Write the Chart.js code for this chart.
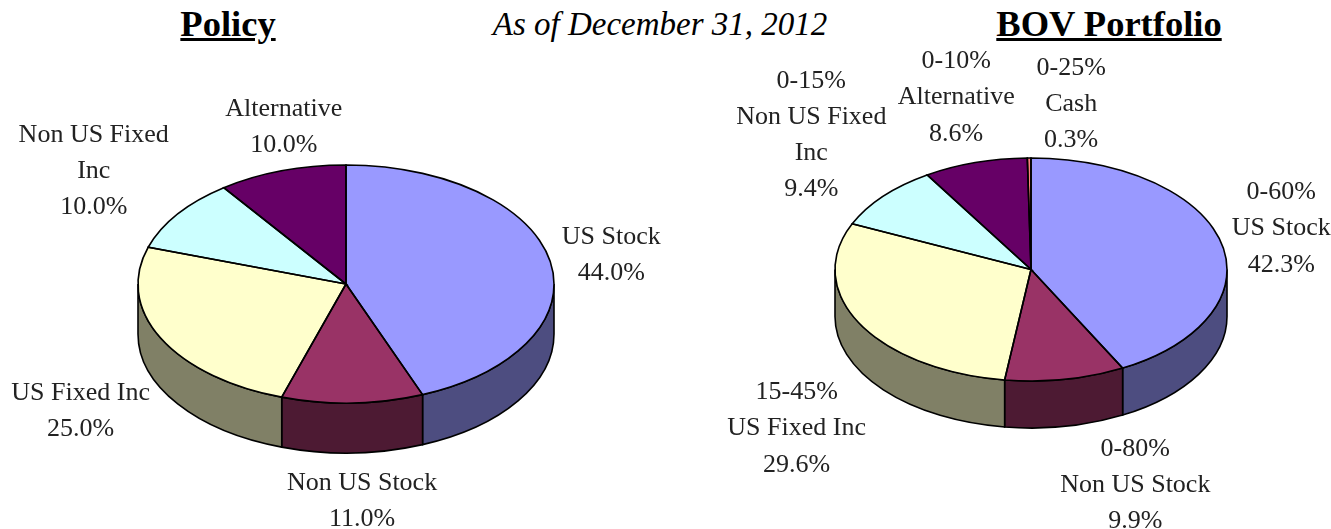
<!DOCTYPE html>
<html>
<head>
<meta charset="utf-8">
<style>
html,body{margin:0;padding:0;background:#fff;width:1331px;height:529px;overflow:hidden}
canvas{position:absolute;top:0}
.t{position:absolute;white-space:nowrap;font-family:"Liberation Serif",serif;color:#000;transform:translateX(-50%);line-height:1}
</style>
</head>
<body>
<div class="t" style="left:228px;top:6px;font-size:36.5px;font-weight:bold;text-decoration:underline">Policy</div>
<div class="t" style="left:660px;top:8px;font-size:33px;font-style:italic">As of December 31, 2012</div>
<div class="t" style="left:1109px;top:6px;font-size:36.5px;font-weight:bold;text-decoration:underline">BOV Portfolio</div>
<div style="position:absolute;left:0;top:0;width:665px;height:529px"><canvas id="policy"></canvas></div>
<div style="position:absolute;left:665px;top:0;width:666px;height:529px"><canvas id="bov"></canvas></div>
<script src="https://cdn.jsdelivr.net/npm/chart.js@4"></script>
<script>
const policyCategories = ["US Stock", "Non US Stock", "US Fixed Inc", "Non US Fixed Inc", "Alternative"];
const policyValues = [44.0, 11.0, 25.0, 10.0, 10.0];
const policyLabelLines = [
  ["US Stock", "44.0%"],
  ["Non US Stock", "11.0%"],
  ["US Fixed Inc", "25.0%"],
  ["Non US Fixed", "Inc", "10.0%"],
  ["Alternative", "10.0%"]
];
const bovCategories = ["US Stock", "Non US Stock", "US Fixed Inc", "Non US Fixed Inc", "Alternative", "Cash"];
const bovValues = [42.3, 9.9, 29.6, 9.4, 8.6, 0.3];
const bovLabelLines = [
  ["0-60%", "US Stock", "42.3%"],
  ["0-80%", "Non US Stock", "9.9%"],
  ["15-45%", "US Fixed Inc", "29.6%"],
  ["0-15%", "Non US Fixed", "Inc", "9.4%"],
  ["0-10%", "Alternative", "8.6%"],
  ["0-25%", "Cash", "0.3%"]
];
const topColors = ["#9999FF", "#993366", "#FFFFCC", "#CCFFFF", "#660066", "#FF8080"];
const wallColors = ["#4D4D80", "#4D1A33", "#808066", "#668080", "#330033", "#804040"];

const pie3d = {
  id: "pie3d",
  beforeDatasetDraw(chart) {
    const o = chart.options.plugins.pie3d, ctx = chart.ctx;
    const arcs = chart.getDatasetMeta(0).data;
    // side wall: only the part of each slice on the front half of the ellipse
    arcs.forEach((arc, i) => {
      const p = arc.getProps(["x", "y", "startAngle", "endAngle", "outerRadius"], true);
      const a = Math.max(p.startAngle, 0), b = Math.min(p.endAngle, Math.PI);
      if (b <= a) return;
      ctx.save();
      ctx.beginPath();
      ctx.save();
      ctx.translate(p.x, p.y); ctx.scale(1, o.squash);
      ctx.arc(0, 0, p.outerRadius, a, b);
      ctx.restore();
      ctx.save();
      ctx.translate(p.x, p.y + o.depth); ctx.scale(1, o.squash);
      ctx.arc(0, 0, p.outerRadius, b, a, true);
      ctx.restore();
      ctx.closePath();
      ctx.fillStyle = wallColors[i];
      ctx.fill();
      ctx.strokeStyle = "#000"; ctx.lineWidth = o.lineWidth;
      ctx.stroke();
      ctx.restore();
    });
    ctx.save();
    const c = arcs[0].getProps(["y"], true);
    ctx.translate(0, c.y); ctx.scale(1, o.squash); ctx.translate(0, -c.y);
  },
  afterDatasetDraw(chart) {
    const o = chart.options.plugins.pie3d, ctx = chart.ctx;
    ctx.restore();
    const arcs = chart.getDatasetMeta(0).data;
    arcs.forEach((arc) => {
      const p = arc.getProps(["x", "y", "startAngle", "endAngle", "outerRadius"], true);
      ctx.save();
      ctx.beginPath();
      ctx.save();
      ctx.translate(p.x, p.y); ctx.scale(1, o.squash);
      ctx.moveTo(0, 0);
      ctx.arc(0, 0, p.outerRadius, p.startAngle, p.endAngle);
      ctx.closePath();
      ctx.restore();
      ctx.strokeStyle = "#000"; ctx.lineWidth = o.lineWidth;
      ctx.stroke();
      ctx.restore();
    });
    // labels, anchored on each slice's rim
    ctx.save();
    ctx.font = o.font; ctx.fillStyle = "#222";
    ctx.textAlign = "center"; ctx.textBaseline = "middle";
    arcs.forEach((arc, i) => {
      const p = arc.getProps(["x", "y", "startAngle", "endAngle", "outerRadius"], true);
      const m = (p.startAngle + p.endAngle) / 2;
      const lx = p.x + p.outerRadius * Math.cos(m) + o.offsets[i][0];
      const ly = p.y + p.outerRadius * o.squash * Math.sin(m) + o.offsets[i][1];
      const lines = o.lines[i];
      lines.forEach((t, j) => ctx.fillText(t, lx, ly + (j - (lines.length - 1) / 2) * o.lineHeight));
    });
    ctx.restore();
  }
};

function makePie(id, categories, values, lines, padding, squash, depth, offsets, lineHeight) {
  return new Chart(document.getElementById(id), {
    type: "pie",
    data: {
      labels: categories,
      datasets: [{ data: values, backgroundColor: topColors.slice(0, values.length), borderWidth: 0, clip: false }]
    },
    options: {
      responsive: true, maintainAspectRatio: false, animation: false,
      layout: { padding },
      plugins: {
        legend: { display: false }, tooltip: { enabled: false }, title: { display: false },
        pie3d: { squash, depth, offsets, lines, lineHeight, lineWidth: 1.6, font: '26px "Liberation Serif"' }
      }
    },
    plugins: [pie3d]
  });
}

makePie("policy", policyCategories, policyValues, policyLabelLines,
  { left: 138, right: 111, top: 76, bottom: 37 }, 0.572, 50,
  [[61, -6.5], [9.5, 98], [-80, 73], [-84, -43], [2, -44]], 36);
makePie("bov", bovCategories, bovValues, bovLabelLines,
  { left: 170, right: 104, top: 73.5, bottom: 63.5 }, 0.569, 47,
  [[60, -14], [70, 106], [-63, 105], [-72, -61], [-19, -65], [42, -54]], 36.3);
</script>
</body>
</html>
